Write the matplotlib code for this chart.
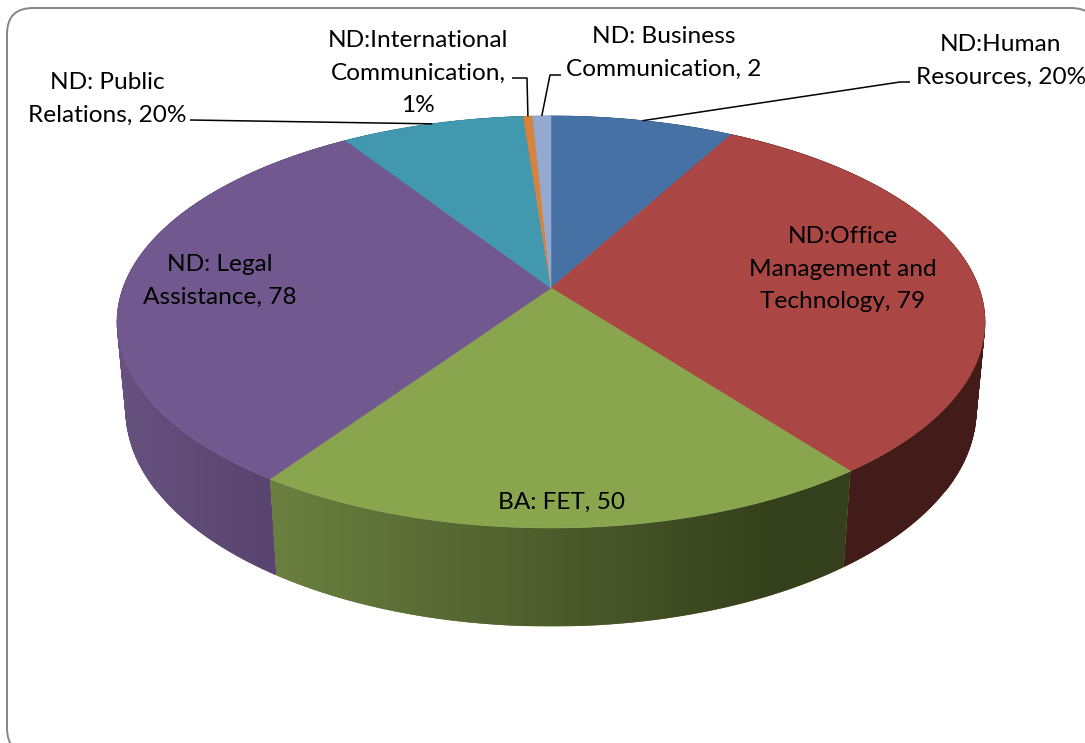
"""
Programme enrolment shown as a tilted 3D pie with a thick side wall.
"""

import matplotlib

matplotlib.use("Agg")

import matplotlib.pyplot as plt
import numpy as np
from matplotlib.patches import FancyBboxPatch, Polygon

names = [
    "ND:Human\nResources, 20%",
    "ND:Office\nManagement and\nTechnology, 79",
    "BA: FET, 50",
    "ND: Legal\nAssistance, 78",
    "ND: Public\nRelations, 20%",
    "ND:International\nCommunication,\n1%",
    "ND: Business\nCommunication, 2",
]
values = [20, 79, 50, 78, 20, 1, 2]

top_colors = ["#4571a5", "#aa4643", "#89a54e", "#71588f", "#4198af", "#d9823b", "#93a9cf"]
wall_left = ["#2f4d70", "#431c1a", "#6b8040", "#67517f", "#2b6676", "#8f5627", "#62718a"]
wall_right = ["#2f4d70", "#431c1a", "#35401c", "#55416b", "#2b6676", "#8f5627", "#62718a"]

label_pos = [(1001, 61), (843, 269), (561, 502), (220, 281), (107, 99), (418, 73), (664, 53)]

# perspective of the disc, fitted to the picture
CX, CY = 551.0, 288.0
A, B, K = 428.0, 200.4, 0.165
DROP_M, DROP_C = 0.02, -89.0


def project(theta, level=0.0):
    # theta runs clockwise from 12 o'clock, level 0 is top face and 1 is the base
    x = np.sin(theta)
    y = np.cos(theta)
    w = 1 + K * y + DROP_M * level
    return CX + A * x / w, CY - (B * y + DROP_C * level) / w


def hex_rgb(c):
    return np.array(matplotlib.colors.to_rgb(c))


def main():
    fig = plt.figure(figsize=(10.85, 7.43), dpi=100)
    ax = fig.add_axes([0, 0, 1, 1])
    ax.set_axis_off()

    ax.add_patch(
        FancyBboxPatch(
            (7, 8),
            1090,
            746,
            boxstyle="round,pad=0,rounding_size=26",
            fc="white",
            ec="#868686",
            lw=1.4,
        )
    )

    edges = np.cumsum([0] + values) / sum(values) * 2 * np.pi

    # the arc polygons below leave a gap at the silhouette tangents, flat quads fill it
    for i in range(len(values)):
        th = np.linspace(edges[i], edges[i + 1], max(3, int((edges[i + 1] - edges[i]) * 60)))
        for a, b in zip(th[:-1], th[1:]):
            if np.cos((a + b) / 2) < -0.5:
                continue
            xa, ya = project(a)
            xb, yb = project(b)
            xc, yc = project(b, 1)
            xd, yd = project(a, 1)
            ax.fill([xa, xb, xc, xd], [ya, yb, yc, yd], fc=wall_left[i], ec=wall_left[i], lw=0.5, zorder=1)

    # side wall, far slices first, each one a clipped horizontal gradient
    order = sorted(range(len(values)), key=lambda j: -np.cos((edges[j] + edges[j + 1]) / 2))
    for i in order:
        th = np.linspace(edges[i], edges[i + 1], 200)
        tx, ty = project(th)
        bx, by = project(th, 1)
        px = np.r_[tx, bx[::-1]]
        py = np.r_[ty, by[::-1]]
        poly = Polygon(np.c_[px, py], closed=True, fc=wall_left[i], ec="none", zorder=2)
        ax.add_patch(poly)
        ramp = np.clip(np.linspace(0, 1, 256) / 0.87, 0, 1)[None, :, None]
        grad = (1 - ramp) * hex_rgb(wall_left[i]) + ramp * hex_rgb(wall_right[i])
        im = ax.imshow(
            grad,
            extent=(tx.min(), tx.max(), py.max(), py.min()),
            aspect="auto",
            interpolation="bilinear",
            zorder=2,
        )
        im.set_clip_path(poly)

    # top face
    for i in range(len(values)):
        th = np.linspace(edges[i], edges[i + 1], 200)
        px, py = project(th)
        ax.fill(
            np.r_[CX, px],
            np.r_[CY, py],
            fc=top_colors[i],
            ec=top_colors[i],
            lw=0.4,
            zorder=3,
        )

    # leader lines run from slice middles to their labels
    mids = (edges[:-1] + edges[1:]) / 2
    leaders = {
        0: [(910, 82), (900, 82)],
        4: [(190, 120)],
        5: [(512, 78), (527, 78)],
        6: [(561, 75), (550, 75)],
    }
    for i, pts in leaders.items():
        mx, my = project(mids[i])
        lx = [p[0] for p in pts] + [mx]
        ly = [p[1] for p in pts] + [my]
        ax.plot(lx, ly, color="black", lw=1.1, zorder=4, solid_capstyle="butt")

    for name, (x, y) in zip(names, label_pos):
        ax.text(
            x,
            y,
            name,
            ha="center",
            va="center",
            ma="center",
            family="Lato",
            fontsize=17.6,
            linespacing=1.65,
            color="black",
            zorder=5,
        )

    ax.set_xlim(0, 1085)
    ax.set_ylim(743, 0)
    fig.savefig("out.png", dpi=100)
    plt.close(fig)


if __name__ == "__main__":
    main()
